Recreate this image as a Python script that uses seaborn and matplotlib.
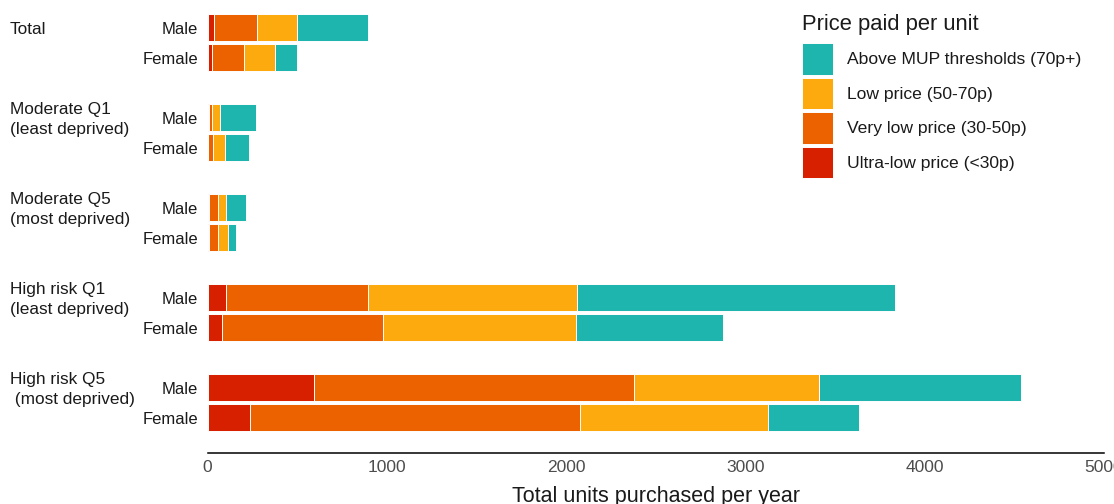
import numpy as np
import pandas as pd
import matplotlib
matplotlib.use('Agg')
import matplotlib.pyplot as plt
import matplotlib.transforms as mtransforms
from matplotlib.patches import Patch
import seaborn as sns

# groups, each with a Male and a Female row
groups = ["Total", "Moderate Q1\n(least deprived)", "Moderate Q5\n(most deprived)",
          "High risk Q1\n(least deprived)", "High risk Q5\n (most deprived)"]
sexes = ["Male", "Female"]

# units per year in each price band, rows = Total M, Total F, ModQ1 M, ModQ1 F, ...
ultra_low = [35, 25, 8, 5, 10, 6, 105, 79, 596, 237]
very_low = [243, 180, 17, 27, 49, 54, 792, 902, 1785, 1841]
low_price = [219, 170, 45, 66, 46, 53, 1163, 1076, 1031, 1050]
above_mup = [400, 122, 199, 132, 112, 48, 1773, 818, 1126, 507]

band_names = ["Above MUP thresholds (70p+)", "Low price (50-70p)",
              "Very low price (30-50p)", "Ultra-low price (<30p)"]
band_colors = ["#1DB5AE", "#FDAA0E", "#EC6200", "#D72000"]

rows = []
for gi, g in enumerate(groups):
    for si, s in enumerate(sexes):
        rows.append({"group": g, "sex": s, "pos": gi * 3 + si})
df = pd.DataFrame(rows)
df["ultra"] = ultra_low
df["very"] = very_low
df["low"] = low_price
df["above"] = above_mup
# cumulative ends of each segment
df["c_ultra"] = df["ultra"]
df["c_very"] = df["c_ultra"] + df["very"]
df["c_low"] = df["c_very"] + df["low"]
df["c_above"] = df["c_low"] + df["above"]

sns.set_style("white")
plt.rcParams['font.family'] = ['Liberation Sans', 'DejaVu Sans']

fig = plt.figure(figsize=(11.14, 5.04), dpi=100)
ax = fig.add_axes([207.5 / 1114, 51 / 504, (1104 - 207.5) / 1114, (453 - 12.7) / 504])

# draw the longest (cumulative) bar first, shorter ones on top
for col, colr in zip(["c_above", "c_low", "c_very", "c_ultra"], band_colors):
    sns.barplot(data=df, x=col, y="pos", orient="y", native_scale=True,
                color=colr, saturation=1, width=0.9, errorbar=None,
                edgecolor="white", linewidth=0.7, ax=ax)

ax.set_xlim(0, 5000)
ax.set_ylim(14.17, -0.5)
ax.set_xticks([0, 1000, 2000, 3000, 4000, 5000])
ax.set_yticks(df["pos"])
ax.set_yticklabels(df["sex"])
ax.set_ylabel("")
ax.set_xlabel("Total units purchased per year", fontsize=15.5, color="#1a1a1a", labelpad=8)

for side in ["top", "right", "left"]:
    ax.spines[side].set_visible(False)
ax.spines["bottom"].set_color("black")
ax.spines["bottom"].set_linewidth(1.1)
ax.tick_params(axis="x", direction="out", length=3, width=1, color="black",
               labelsize=12.5, labelcolor="#4d4d4d", pad=2)
ax.tick_params(axis="y", length=0, labelsize=12, labelcolor="#1a1a1a", pad=7)
ax.grid(False)

# group labels at left edge of figure, next to the Male row
trans = mtransforms.blended_transform_factory(fig.transFigure, ax.transData)
for gi, g in enumerate(groups):
    ax.text(10 / 1114, gi * 3 + 0.06, g, transform=trans, ha="left", va="center",
            fontsize=12.4, color="#1a1a1a", linespacing=1.4, multialignment="left")

# legend title as its own text, then the keys below it
fig.text(802 / 1114, 1 - 30 / 504, "Price paid per unit", fontsize=15.8,
         color="#1a1a1a", ha="left", va="baseline")
handles = [Patch(facecolor=c, edgecolor="white", linewidth=0.7) for c in band_colors]
leg = fig.legend(handles, band_names, loc="upper left", bbox_to_anchor=(802 / 1114, 1 - 43 / 504),
                 frameon=False, fontsize=12.6,
                 handlelength=1.78, handleheight=2.4, labelspacing=0.17,
                 handletextpad=0.8, borderpad=0, borderaxespad=0)
for t in leg.get_texts():
    t.set_color("#1a1a1a")

fig.savefig("out.png", dpi=100)
